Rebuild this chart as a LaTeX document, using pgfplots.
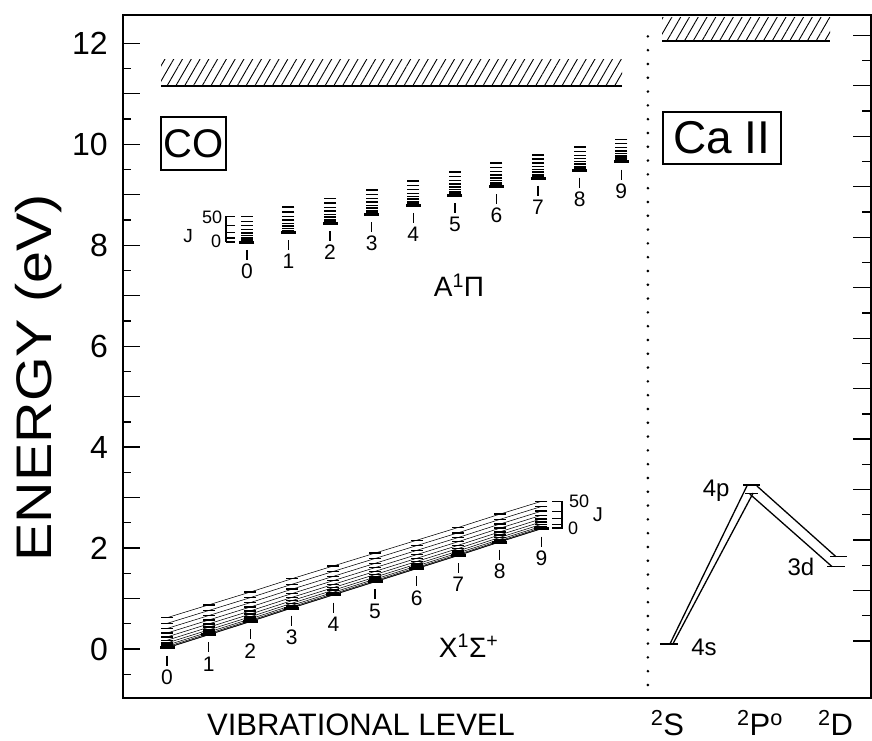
\documentclass[border=0pt]{standalone}
\usepackage{fontspec}
\setmainfont{Liberation Sans}
\usepackage{graphicx}
\usepackage{pgfplots}
\usepackage{pgfplotstable}
\pgfplotsset{compat=1.18}
\usetikzlibrary{patterns.meta}
\newcommand\fs[1]{\fontsize{#1}{#1}\selectfont}

% CO X^1Sigma^+ : rotational ladders J = 0,5,...,50 for v = 0..9 (eV)
\pgfplotstableread{
v x J0 J5 J10 J15 J20 J25 J30 J35 J40 J45 J50 tk lb
0 0 0.020 0.027 0.046 0.076 0.119 0.173 0.239 0.316 0.406 0.507 0.620 -0.230 -0.555
1 1 0.280 0.287 0.306 0.336 0.378 0.431 0.497 0.573 0.662 0.762 0.874 0.030 -0.295
2 2 0.540 0.547 0.565 0.595 0.637 0.690 0.754 0.831 0.918 1.017 1.128 0.290 -0.035
3 3 0.810 0.817 0.835 0.865 0.906 0.958 1.022 1.098 1.184 1.282 1.392 0.560 0.235
4 4 1.070 1.077 1.095 1.124 1.165 1.217 1.280 1.355 1.440 1.538 1.646 0.820 0.495
5 5 1.330 1.337 1.355 1.384 1.424 1.475 1.538 1.612 1.697 1.793 1.900 1.080 0.755
6 6 1.590 1.597 1.614 1.643 1.683 1.734 1.796 1.869 1.953 2.048 2.154 1.340 1.015
7 7 1.850 1.857 1.874 1.903 1.942 1.992 2.054 2.126 2.209 2.303 2.408 1.600 1.275
8 8 2.120 2.127 2.144 2.172 2.211 2.261 2.321 2.393 2.475 2.568 2.672 1.870 1.545
9 9 2.380 2.387 2.404 2.431 2.470 2.519 2.579 2.650 2.731 2.823 2.926 2.130 1.805
}\Xstate

% CO A^1Pi : rotational ladders J = 0,5,...,50 for v = 0..9 (eV)
\pgfplotstableread{
v x J0 J5 J10 J15 J20 J25 J30 J35 J40 J45 J50 tk lb
0 1.92 8.060 8.066 8.082 8.108 8.144 8.190 8.246 8.312 8.388 8.474 8.570 7.810 7.485
1 2.92 8.250 8.256 8.272 8.297 8.333 8.378 8.433 8.499 8.573 8.658 8.753 8.000 7.675
2 3.92 8.430 8.436 8.451 8.477 8.512 8.556 8.611 8.675 8.749 8.833 8.926 8.180 7.855
3 4.92 8.610 8.616 8.631 8.656 8.691 8.735 8.788 8.852 8.924 9.007 9.099 8.360 8.035
4 5.92 8.790 8.796 8.811 8.835 8.869 8.913 8.966 9.028 9.100 9.181 9.272 8.540 8.215
5 6.92 8.980 8.986 9.000 9.025 9.058 9.101 9.153 9.215 9.285 9.366 9.455 8.730 8.405
6 7.92 9.160 9.166 9.180 9.204 9.237 9.279 9.331 9.391 9.461 9.540 9.628 8.910 8.585
7 8.92 9.330 9.335 9.350 9.373 9.406 9.448 9.498 9.558 9.626 9.704 9.791 9.080 8.755
8 9.92 9.490 9.495 9.510 9.533 9.565 9.606 9.656 9.714 9.782 9.859 9.944 9.240 8.915
9 10.92 9.650 9.655 9.669 9.692 9.724 9.764 9.813 9.871 9.937 10.013 10.097 9.400 9.075
}\Astate

\begin{document}
\begin{tikzpicture}
\path[use as bounding box] (-123pt,-42pt) rectangle (749pt,698pt);
\begin{axis}[
  at={(0pt,0pt)}, anchor=south west,
  scale only axis, width=748pt, height=683pt,
  xmin=-1.058, xmax=16.923, ymin=-0.971, ymax=12.562,
  clip=false,
  axis line style={line width=1.5pt},
  xtick=\empty,
  ytick={0,2,...,12},
  extra y ticks={1,3,...,11}, extra y tick labels={},
  minor ytick={-0.5,0.5,...,11.5},
  ytick pos=left, tick align=inside,
  major tick length=17pt, minor tick length=8pt,
  tick style={line width=1.3pt, black},
  /pgf/number format/assume math mode=true,
  yticklabel style={font=\fs{32}, inner sep=0pt, xshift=-15pt},
  rung/.style={mark=-, mark size=6pt, mark options={line width=1.5pt, solid}},
  base/.style={mark=-, mark size=7.5pt, mark options={line width=3pt, solid}},
]

% dissociation / ionisation limits
\addplot[draw=none, pattern={Lines[angle=60, distance=7.6pt, line width=0.9pt]}]
  coordinates {(-0.144,11.15) (10.94,11.15) (10.94,11.69) (-0.144,11.69) (-0.144,11.15)};
\addplot[line width=1.8pt] coordinates {(-0.144,11.15) (10.94,11.15)};
\addplot[draw=none, pattern={Lines[angle=60, distance=7.6pt, line width=0.9pt]}]
  coordinates {(11.90,12.04) (15.94,12.04) (15.94,12.52) (11.90,12.52) (11.90,12.04)};
\addplot[line width=1.8pt] coordinates {(11.90,12.04) (15.94,12.04)};

% separator between CO and Ca II
\addplot[line width=2.9pt, line cap=round, dash pattern=on 0pt off 13.8pt]
  coordinates {(11.56,-0.713) (11.56,12.36)};

% energy scale of the Ca II panel (ticks on the right-hand frame)
\addplot[only marks, mark=-, mark size=9pt, mark options={line width=1.3pt}]
  coordinates {(16.707,0.159) (16.707,1.159) (16.707,2.159) (16.707,3.159) (16.707,4.159)
               (16.707,5.159) (16.707,6.159) (16.707,7.159) (16.707,8.159) (16.707,9.159)
               (16.707,10.159) (16.707,11.159) (16.707,12.159)};
\addplot[only marks, mark=-, mark size=4.5pt, mark options={line width=1.3pt}]
  coordinates {(16.815,0.659) (16.815,1.659) (16.815,2.659) (16.815,3.659) (16.815,4.659)
               (16.815,5.659) (16.815,6.659) (16.815,7.659) (16.815,8.659) (16.815,9.659)
               (16.815,10.659) (16.815,11.659)};

% X state: ladders joined level by level
\addplot[line width=0.55pt, base] table[x=x, y=J0] {\Xstate};
\pgfplotsinvokeforeach{5,10,15,20,25,30,35,40,45,50}{
  \addplot[line width=0.55pt, rung] table[x=x, y=J#1] {\Xstate};
}
% A state: ladders only
\addplot[only marks, base] table[x=x, y=J0] {\Astate};
\pgfplotsinvokeforeach{5,10,15,20,25,30,35,40,45,50}{
  \addplot[only marks, rung] table[x=x, y=J#1] {\Astate};
}

% vibrational quantum numbers
\addplot[only marks, mark=|, mark size=5pt, mark options={line width=1.3pt}] table[x=x, y=tk] {\Xstate};
\addplot[only marks, mark=|, mark size=5pt, mark options={line width=1.3pt}] table[x=x, y=tk] {\Astate};
\addplot[draw=none, nodes near coords, point meta=explicit symbolic,
  every node near coord/.style={anchor=center, font=\fs{21}}] table[x=x, y=lb, meta=v] {\Xstate};
\addplot[draw=none, nodes near coords, point meta=explicit symbolic,
  every node near coord/.style={anchor=center, font=\fs{21}}] table[x=x, y=lb, meta=v] {\Astate};

% J scale brackets
\addplot[line width=1.2pt] coordinates {(1.418,8.060) (1.418,8.570)};
\addplot[only marks, mark=-, mark size=4.5pt, mark options={line width=1.2pt}]
  coordinates {(1.526,8.060) (1.526,8.082) (1.526,8.144) (1.526,8.246) (1.526,8.388) (1.526,8.570)};
\addplot[line width=1.2pt] coordinates {(9.495,2.380) (9.495,2.926)};
\addplot[only marks, mark=-, mark size=5pt, mark options={line width=1.2pt}]
  coordinates {(9.375,2.380) (9.375,2.404) (9.375,2.470) (9.375,2.579) (9.375,2.731) (9.375,2.926)};

% Ca II levels and transitions
\addplot[line width=1.5pt] coordinates {(11.85,0.10) (12.28,0.10)};
\addplot[line width=1.5pt] coordinates {(13.85,3.25) (14.25,3.25)};
\addplot[line width=1.5pt] coordinates {(13.90,3.08) (14.20,3.08)};
\addplot[line width=1.5pt] coordinates {(15.94,1.83) (16.35,1.83)};
\addplot[line width=1.5pt] coordinates {(15.87,1.63) (16.30,1.63)};
\addplot[line width=1.3pt] coordinates {(12.09,0.10) (13.94,3.23)};
\addplot[line width=1.3pt] coordinates {(12.16,0.10) (14.09,3.09)};
\addplot[line width=1.3pt] coordinates {(14.18,3.23) (16.08,1.83)};
\addplot[line width=1.3pt] coordinates {(14.01,3.07) (15.99,1.63)};

% labels
\node[draw, line width=1.6pt, minimum width=65pt, minimum height=53pt, inner sep=0pt, font=\fs{40}]
  at (axis cs:0.637,10.016) {CO};
\node[draw, line width=1.6pt, minimum width=118pt, minimum height=52pt, inner sep=0pt, font=\fs{46}]
  at (axis cs:13.34,10.125) {Ca II};
\node[anchor=base, font=\fs{28}] at (axis cs:7.02,6.975) {A\textsuperscript{1}Π};
\node[anchor=base, font=\fs{28}] at (axis cs:7.25,-0.159) {X\textsuperscript{1}Σ\textsuperscript{+}};
\node[font=\fs{18}] at (axis cs:1.082,8.56) {50};
\node[font=\fs{18}] at (axis cs:1.178,8.08) {0};
\node[font=\fs{19}] at (axis cs:0.505,8.18) {J};
\node[font=\fs{18}] at (axis cs:9.904,2.923) {50};
\node[font=\fs{18}] at (axis cs:9.76,2.388) {0};
\node[font=\fs{20}] at (axis cs:10.36,2.655) {J};
\node[font=\fs{24}] at (axis cs:12.91,0.04) {4s};
\node[font=\fs{24}] at (axis cs:13.20,3.13) {4p};
\node[font=\fs{24}] at (axis cs:15.24,1.62) {3d};

% axis titles
\node[rotate=90, font=\fs{50}] at (axis cs:-3.077,5.37) {\scalebox{1.15}[1]{ENERGY (eV)}};
\node[anchor=base, font=\fs{31}, inner sep=1pt] at (axis cs:4.663,-1.704) {VIBRATIONAL LEVEL};
\node[anchor=base, font=\fs{31}, inner sep=1pt] at (axis cs:12.03,-1.704) {\textsuperscript{2}S};
\node[anchor=base, font=\fs{31}, inner sep=1pt] at (axis cs:14.255,-1.704) {\textsuperscript{2}P\textsuperscript{o}};
\node[anchor=base, font=\fs{31}, inner sep=1pt] at (axis cs:16.07,-1.704) {\textsuperscript{2}D};
\end{axis}
\end{tikzpicture}
\end{document}
